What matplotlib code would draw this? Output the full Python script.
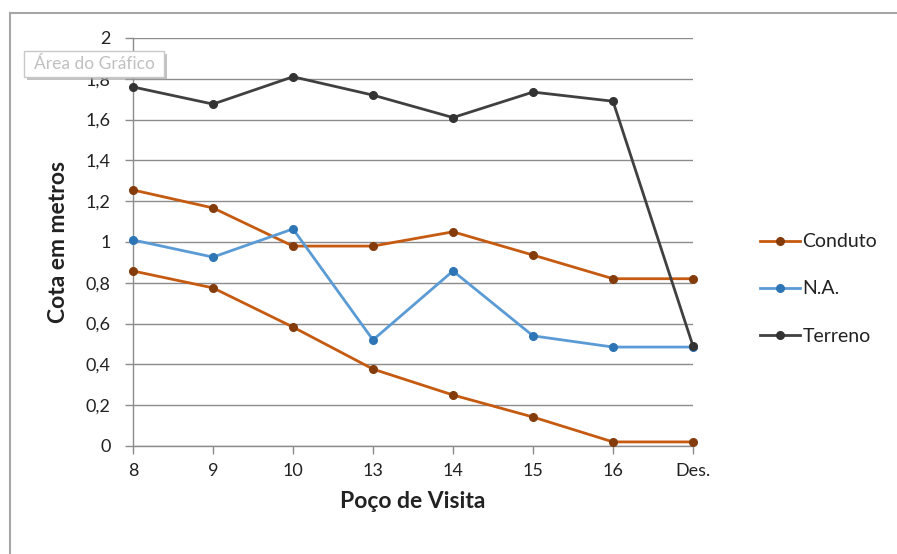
import matplotlib
matplotlib.use("Agg")
import matplotlib.pyplot as plt
from matplotlib.ticker import FuncFormatter, MultipleLocator
from matplotlib.lines import Line2D
from matplotlib.patches import Rectangle

plt.rcParams['font.family'] = ['Lato', 'DejaVu Sans']

# data
pocos = ["8", "9", "10", "13", "14", "15", "16", "Des."]
conduto_topo = [1.255, 1.167, 0.98, 0.98, 1.05, 0.936, 0.82, 0.82]
conduto_fundo = [0.858, 0.775, 0.583, 0.377, 0.25, 0.142, 0.02, 0.02]
na = [1.01, 0.926, 1.064, 0.52, 0.858, 0.54, 0.485, 0.485]
terreno = [1.76, 1.676, 1.81, 1.72, 1.61, 1.735, 1.69, 0.49]

c_cond, c_cond_m = "#C55A11", "#843C0C"
c_na, c_na_m = "#5B9BD5", "#2E75B6"
c_ter, c_ter_m = "#404040", "#333333"
grid_c = "#8C8C8C"

fig = plt.figure(figsize=(8.97, 5.54), dpi=100)
ax = fig.add_axes([133/897, 1 - 446/554, (693-133)/897, (446-38)/554])

x = list(range(len(pocos)))
kw = dict(lw=2.0, marker="o", ms=5.5, clip_on=False, zorder=3)
ax.plot(x, conduto_topo, color=c_cond, mfc=c_cond_m, mec=c_cond_m, **kw)
ax.plot(x, conduto_fundo, color=c_cond, mfc=c_cond_m, mec=c_cond_m, **kw)
ax.plot(x, na, color=c_na, mfc=c_na_m, mec=c_na_m, **kw)
ax.plot(x, terreno, color=c_ter, mfc=c_ter_m, mec=c_ter_m, **kw)

ax.set_xlim(0, len(pocos) - 1)
ax.set_ylim(0, 2)
ax.set_xticks(x)
ax.set_xticklabels(pocos)
ax.yaxis.set_major_locator(MultipleLocator(0.2))
ax.yaxis.set_major_formatter(FuncFormatter(lambda v, p: ("%g" % round(v, 1)).replace(".", ",")))

ax.grid(axis="y", color=grid_c, lw=1.0)
ax.set_axisbelow(True)
for s in ["top", "right"]:
    ax.spines[s].set_visible(False)
for s in ["left", "bottom"]:
    ax.spines[s].set_color(grid_c)
    ax.spines[s].set_linewidth(1.0)
ax.tick_params(axis="both", colors=grid_c, labelcolor="#222222", labelsize=13, length=6, width=1.0)
ax.tick_params(axis="x", pad=6)
ax.tick_params(axis="y", pad=10)

ax.set_xlabel("Poço de Visita", fontsize=16.5, fontweight="bold", color="#222222", labelpad=9)
ax.set_ylabel("Cota em metros", fontsize=16.5, fontweight="bold", color="#222222", labelpad=12)

handles = [
    Line2D([], [], color=c_cond, lw=2, marker="o", ms=5.5, mfc=c_cond_m, mec=c_cond_m),
    Line2D([], [], color=c_na, lw=2, marker="o", ms=5.5, mfc=c_na_m, mec=c_na_m),
    Line2D([], [], color=c_ter, lw=2, marker="o", ms=5.5, mfc=c_ter_m, mec=c_ter_m),
]
fig.legend(handles, ["Conduto", "N.A.", "Terreno"], loc="center left",
           bbox_to_anchor=(742/897, 1 - 289/554), frameon=False, fontsize=14,
           handlelength=2.1, handletextpad=0.1, labelspacing=1.55, labelcolor="#222222")

# chart area border (only left and top visible)
fig.add_artist(Line2D([10/897, 10/897], [0, 1 - 13/554], color="#A6A6A6", lw=1.5))
fig.add_artist(Line2D([10/897, 1], [1 - 13/554, 1 - 13/554], color="#A6A6A6", lw=1.5))

# Excel tooltip
fig.add_artist(Rectangle((27/897, 1 - 80/554), 140/897, 26/554, transform=fig.transFigure,
                         facecolor="#9A9A9A", edgecolor="none", alpha=0.6))
fig.add_artist(Rectangle((24/897, 1 - 77/554), 140/897, 26/554, transform=fig.transFigure,
                         facecolor="white", edgecolor="#C8C8C8", lw=1))
fig.text(94/897, 1 - 64/554, "Área do Gráfico", ha="center", va="center",
         fontsize=12.5, color="#C0C0C0")

fig.savefig("out.png", dpi=100)
